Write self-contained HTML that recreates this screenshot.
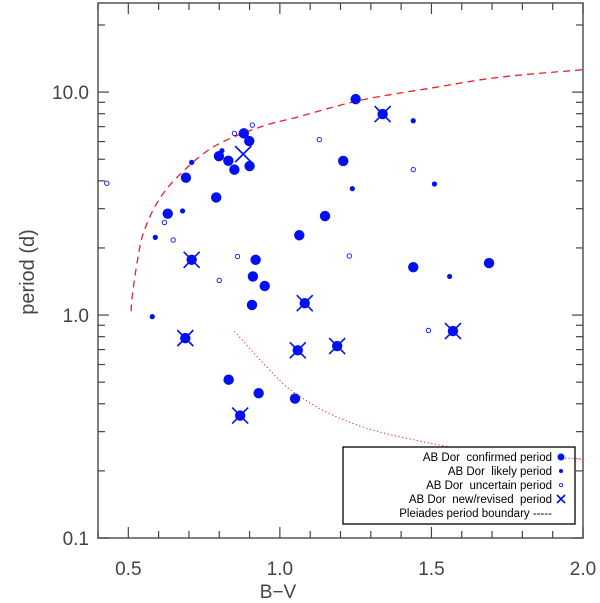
<!DOCTYPE html>
<html><head><meta charset="utf-8"><style>
html,body{margin:0;padding:0;background:#fff;}
svg{display:block;font-family:"Liberation Sans",sans-serif;}
</style></head><body>
<svg id="chart" width="600" height="603" viewBox="0 0 600 603">
<g id="marks"></g>
</svg>
<script>
const confirmedBV=[0.881,0.899,0.799,0.830,0.850,0.900,0.690,0.790,0.630,0.920,0.911,0.950,1.064,1.250,1.209,1.149,1.440,1.690,0.908,0.831,0.930,1.050];
const confirmedP=[6.53,6.03,5.16,4.92,4.49,4.66,4.13,3.37,2.85,1.77,1.49,1.35,2.28,9.30,4.91,2.78,1.64,1.71,1.11,0.513,0.446,0.422];
const newConfBV=[0.709,0.688,0.869,1.059,1.189,1.571,1.339,1.082];
const newConfP=[1.77,0.788,0.354,0.695,0.726,0.848,7.97,1.13];
const newOnlyBV=[0.879];
const newOnlyP=[5.27];
const likelyBV=[0.709,0.809,0.679,0.589,1.440,1.239,1.510,1.560,0.579];
const likelyP=[4.84,5.46,2.93,2.23,7.44,3.69,3.87,1.49,0.984];
const uncertainBV=[0.429,0.850,0.909,0.619,0.648,0.860,0.800,1.130,1.440,1.229,1.490];
const uncertainP=[3.90,6.53,7.11,2.60,2.17,1.83,1.43,6.12,4.49,1.84,0.853];
const boundUpperBV=[0.509,0.514,0.530,0.549,0.594,0.660,0.780,0.934,1.066,1.264,1.506,1.726,2.000];
const boundUpperP=[1.04,1.25,1.75,2.32,3.17,4.14,5.67,6.97,7.78,9.18,10.47,11.67,12.6];
const boundLowerBV=[0.850,0.957,1.044,1.176,1.330,1.561,1.715,2.000];
const boundLowerP=[0.845,0.585,0.452,0.355,0.299,0.256,0.239,0.225];
const xTicks=[0.5,1.0,1.5,2.0];
const xTickLabels=["0.5","1.0","1.5","2.0"];
const yTicks=[10,1,0.1];
const yTickLabels=["10.0","1.0","0.1"];

const L=98,R=583,T=3,B=538,XMIN=0.4,XMAX=2.0;
const YMIN=0.1,YMAX=25.1;
function sx(v){return L+(v-XMIN)/(XMAX-XMIN)*(R-L);}
function sy(v){return B-(Math.log10(v)-Math.log10(YMIN))/(Math.log10(YMAX)-Math.log10(YMIN))*(B-T);}
const NS="http://www.w3.org/2000/svg";
const g=document.getElementById('marks');
function mk(tag,attrs,parent){const e=document.createElementNS(NS,tag);for(const k in attrs)e.setAttribute(k,attrs[k]);(parent||g).appendChild(e);return e;}

let fr=mk('rect',{x:L,y:T,width:R-L,height:B-T,fill:'none',stroke:'#555','stroke-width':1.5});


for(let i=4;i<=20;i++){
  const v=i/10,x=sx(v),len=(i%5===0)?11:7;
  mk('line',{x1:x,y1:B,x2:x,y2:B-len,stroke:'#444','stroke-width':1.2});
  mk('line',{x1:x,y1:T,x2:x,y2:T+len,stroke:'#444','stroke-width':1.2});
}
[0.1,1,10].forEach(d=>{for(let m=1;m<=9;m++){const v=d*m;if(v>YMAX)continue;const y=sy(v),len=(m===1)?11:7;
  mk('line',{x1:L,y1:y,x2:L+len,y2:y,stroke:'#444','stroke-width':1.2});
  mk('line',{x1:R,y1:y,x2:R-len,y2:y,stroke:'#444','stroke-width':1.2});}});
xTicks.forEach((v,i)=>{const t=mk('text',{x:sx(v),y:575,'text-anchor':'middle','font-size':19,fill:'#444'});t.textContent=xTickLabels[i];

});
yTicks.forEach((v,i)=>{const t=mk('text',{x:89,y:sy(v)+7,'text-anchor':'end','font-size':19,fill:'#444'});t.textContent=yTickLabels[i];

});
let xt=mk('text',{x:278,y:598,'text-anchor':'middle','font-size':19,fill:'#444'});xt.textContent='B\u2212V';


let yt=mk('text',{x:0,y:0,'text-anchor':'middle','font-size':20,fill:'#444',transform:'translate(34,272) rotate(-90)'});yt.textContent='period (d)';



function smooth(xs,ys){
  const p=xs.map((v,i)=>[sx(v),sy(ys[i])]);
  let d='M'+p[0][0].toFixed(1)+','+p[0][1].toFixed(1);
  for(let i=0;i<p.length-1;i++){
    const p0=p[Math.max(0,i-1)],p1=p[i],p2=p[i+1],p3=p[Math.min(p.length-1,i+2)];
    const c1=[p1[0]+(p2[0]-p0[0])/6,p1[1]+(p2[1]-p0[1])/6];
    const c2=[p2[0]-(p3[0]-p1[0])/6,p2[1]-(p3[1]-p1[1])/6];
    d+=` C${c1[0].toFixed(1)},${c1[1].toFixed(1)} ${c2[0].toFixed(1)},${c2[1].toFixed(1)} ${p2[0].toFixed(1)},${p2[1].toFixed(1)}`;
  }
  return d;
}
let c1=mk('path',{d:smooth(boundUpperBV,boundUpperP),fill:'none',stroke:'#e8202a','stroke-width':1.3,'stroke-dasharray':'7,5'});


let c2=mk('path',{d:smooth(boundLowerBV,boundLowerP),fill:'none',stroke:'#e8202a','stroke-width':1,'stroke-dasharray':'1.2,2.5'});



const BLUE='#0010f0';
function xMark(x,y,s){mk('path',{d:`M${x-s},${y-s}L${x+s},${y+s}M${x-s},${y+s}L${x+s},${y-s}`,stroke:BLUE,'stroke-width':1.6,fill:'none'});}
confirmedBV.forEach((v,i)=>{const c=mk('circle',{cx:sx(v),cy:sy(confirmedP[i]),r:5.2,fill:BLUE});

});
newConfBV.forEach((v,i)=>{const x=sx(v),y=sy(newConfP[i]);const c=mk('circle',{cx:x,cy:y,r:5.2,fill:BLUE});


xMark(x,y,8);});
newOnlyBV.forEach((v,i)=>{xMark(sx(v),sy(newOnlyP[i]),8);});
likelyBV.forEach((v,i)=>{const c=mk('circle',{cx:sx(v),cy:sy(likelyP[i]),r:2.6,fill:BLUE});

});
uncertainBV.forEach((v,i)=>{const c=mk('circle',{cx:sx(v),cy:sy(uncertainP[i]),r:2.2,fill:'none',stroke:BLUE,'stroke-width':0.9});

});

const lg=mk('g',{});


mk('rect',{x:343,y:447,width:232,height:77,fill:'#fff',stroke:'#000','stroke-width':1.3},lg);
mk('line',{x1:565,y1:458,x2:583,y2:459,stroke:'#e8202a','stroke-width':1,'stroke-dasharray':'1.2,2.5'},lg);
const rows=["AB Dor  confirmed period","AB Dor  likely period","AB Dor  uncertain period","AB Dor  new/revised  period","Pleiades period boundary -----"];
rows.forEach((s,i)=>{const y=461+i*14;const t=mk('text',{x:552,y:y,'text-anchor':'end','font-size':11.5,fill:'#000',style:'white-space:pre'},lg);t.textContent=s;

});
mk('circle',{cx:561,cy:457,r:3.5,fill:BLUE},lg);
mk('circle',{cx:561,cy:471,r:2,fill:BLUE},lg);
mk('circle',{cx:561,cy:485,r:1.6,fill:'none',stroke:BLUE,'stroke-width':0.8},lg);
mk('path',{d:'M557,495L565,503M557,503L565,495',stroke:BLUE,'stroke-width':1.6},lg);
</script>
</body></html>
